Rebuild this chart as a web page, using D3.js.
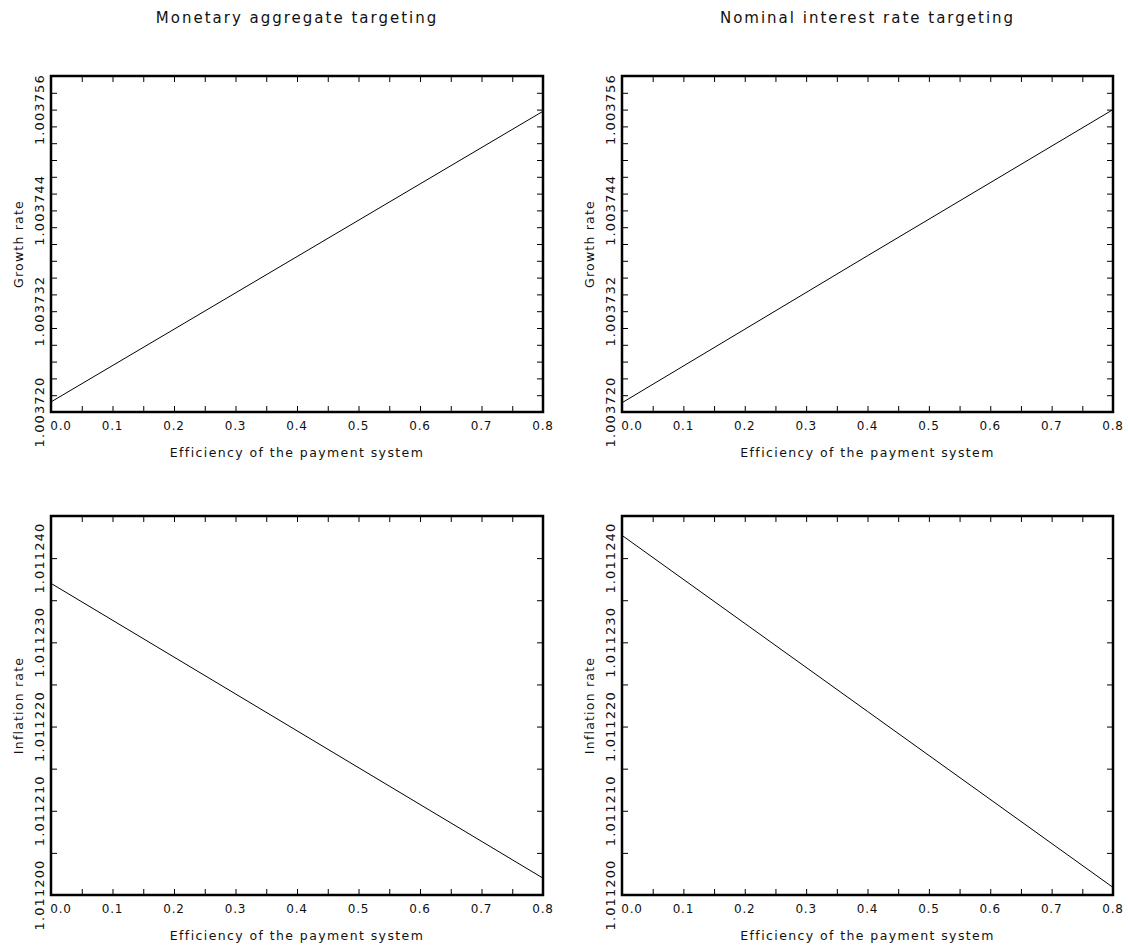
<!DOCTYPE html>
<html>
<head>
<meta charset="utf-8">
<script src="https://cdn.jsdelivr.net/npm/d3@7"></script>
<style>
  body { margin: 0; background: #fff; }
  text { font-family: "DejaVu Sans", sans-serif; fill: #111; }
</style>
</head>
<body>
<div id="chart"></div>
<script>
// 画布尺寸
const width = 1128;
const height = 949;

// 数据：支付系统效率 (x) 与各面板读数
const efficiency = [0, 0.4, 0.8];
const growthMoney = [1.0037212, 1.0037385, 1.0037558];
const growthRate = [1.0037211, 1.0037386, 1.0037560];
const inflMoney = [1.0112370, 1.0112195, 1.0112020];
const inflRate = [1.0112427, 1.0112218, 1.0112009];

// 刻度标签
const xTicks = [0, 0.1, 0.2, 0.3, 0.4, 0.5, 0.6, 0.7, 0.8];
const growthTicks = [1.003720, 1.003732, 1.003744, 1.003756];
const inflTicks = [1.011200, 1.011210, 1.011220, 1.011230, 1.011240];

const columnTitles = ["Monetary aggregate targeting", "Nominal interest rate targeting"];
const xTitle = "Efficiency of the payment system";

// 面板布局
const cols = [{ x0: 51, x1: 543 }, { x0: 622, x1: 1113 }];
const rows = [
    { y0: 76, y1: 412, domain: [1.003720, 1.003760], minor: 0.000002, ticks: growthTicks, label: "Growth rate", series: [growthMoney, growthRate] },
    { y0: 516, y1: 895, domain: [1.011200, 1.011245], minor: 0.000005, ticks: inflTicks, label: "Inflation rate", series: [inflMoney, inflRate] }
];

const svg = d3.select("#chart")
    .append("svg")
    .attr("width", width)
    .attr("height", height);

const fmtY = d3.format(".6f");
const fmtX = d3.format(".1f");
const tickLen = 6;

// 列标题
columnTitles.forEach((t, i) => {
    svg.append("text")
        .attr("x", (cols[i].x0 + cols[i].x1) / 2)
        .attr("y", 23)
        .attr("text-anchor", "middle")
        .style("font-size", "15px")
        .style("letter-spacing", "2px")
        .text(t);
});

function drawPanel(col, row, values) {
    const x = d3.scaleLinear().domain([0, 0.8]).range([col.x0, col.x1]);
    const y = d3.scaleLinear().domain(row.domain).range([row.y1, row.y0]);

    const g = svg.append("g");

    const xMinor = d3.range(0, 0.8001, 0.05);
    const yMinor = d3.range(row.domain[0], row.domain[1] + row.minor / 2, row.minor);

    // 四边朝内的刻度线
    g.append("g")
        .attr("transform", `translate(0,${row.y1})`)
        .call(d3.axisBottom(x).tickValues(xMinor).tickSize(-tickLen).tickFormat(""))
        .call(a => a.select(".domain").remove());
    g.append("g")
        .attr("transform", `translate(0,${row.y0})`)
        .call(d3.axisTop(x).tickValues(xMinor).tickSize(-tickLen).tickFormat(""))
        .call(a => a.select(".domain").remove());
    g.append("g")
        .attr("transform", `translate(${col.x0},0)`)
        .call(d3.axisLeft(y).tickValues(yMinor).tickSize(-tickLen).tickFormat(""))
        .call(a => a.select(".domain").remove());
    g.append("g")
        .attr("transform", `translate(${col.x1},0)`)
        .call(d3.axisRight(y).tickValues(yMinor).tickSize(-tickLen).tickFormat(""))
        .call(a => a.select(".domain").remove());
    g.selectAll(".tick line").attr("stroke", "#000").attr("stroke-width", 1);

    // 边框
    g.append("rect")
        .attr("x", col.x0)
        .attr("y", row.y0)
        .attr("width", col.x1 - col.x0)
        .attr("height", row.y1 - row.y0)
        .attr("fill", "none")
        .attr("stroke", "#000")
        .attr("stroke-width", 2.5);

    // x 刻度标签
    g.selectAll(".xlab")
        .data(xTicks)
        .enter()
        .append("text")
        .attr("x", (d, i) => x(d) + (i === 0 ? 10 : 0))
        .attr("y", row.y1 + 18)
        .attr("text-anchor", "middle")
        .style("font-size", "12px")
        .style("letter-spacing", "0.8px")
        .text(d => fmtX(d));

    // y 刻度标签（旋转）
    g.selectAll(".ylab")
        .data(row.ticks)
        .enter()
        .append("text")
        .attr("transform", d => `translate(${col.x0 - 7},${y(d)}) rotate(-90)`)
        .attr("text-anchor", "middle")
        .style("font-size", "13px")
        .style("letter-spacing", "1.1px")
        .text(d => fmtY(d));

    // 轴标题
    g.append("text")
        .attr("x", (col.x0 + col.x1) / 2)
        .attr("y", row.y1 + 45)
        .attr("text-anchor", "middle")
        .style("font-size", "12.5px")
        .style("letter-spacing", "1.4px")
        .text(xTitle);
    g.append("text")
        .attr("transform", `translate(${col.x0 - 28},${(row.y0 + row.y1) / 2}) rotate(-90)`)
        .attr("text-anchor", "middle")
        .style("font-size", "12.5px")
        .style("letter-spacing", "1.2px")
        .text(row.label);

    // 曲线
    const line = d3.line()
        .x((d, i) => x(efficiency[i]))
        .y(d => y(d));
    g.append("path")
        .datum(values)
        .attr("d", line)
        .attr("fill", "none")
        .attr("stroke", "#000")
        .attr("stroke-width", 1);
}

rows.forEach(row => {
    cols.forEach((col, i) => drawPanel(col, row, row.series[i]));
});
</script>
</body>
</html>
